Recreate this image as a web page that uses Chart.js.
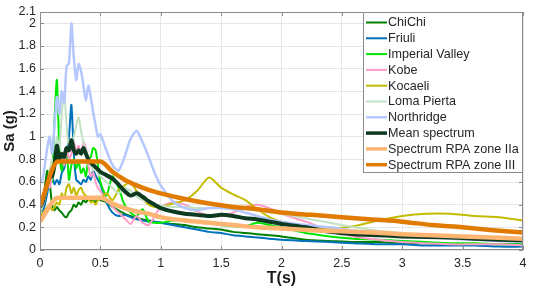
<!DOCTYPE html>
<html>
<head>
<meta charset="utf-8">
<script src="https://cdn.jsdelivr.net/npm/chart.js@4.4.1/dist/chart.umd.min.js"></script>
<style>
  html, body { margin: 0; padding: 0; background: #fff; }
  #wrap { width: 534px; height: 290px; }
</style>
</head>
<body>
<div id="wrap"><canvas id="spectraChart"></canvas></div>
<script>
// periods T (s) shared by the recorded spectra
const periods = [0, 0.02, 0.04, 0.06, 0.08, 0.1, 0.12, 0.14, 0.16, 0.18, 0.2, 0.22, 0.24, 0.26, 0.28, 0.3,
  0.32, 0.34, 0.36, 0.38, 0.4, 0.42, 0.44, 0.46, 0.48, 0.5, 0.55, 0.6, 0.65, 0.7, 0.75, 0.8, 0.85, 0.9, 0.95,
  1.0, 1.1, 1.2, 1.3, 1.4, 1.5, 1.6, 1.7, 1.8, 1.9, 2.0, 2.2, 2.4, 2.6, 2.8, 3.0, 3.2, 3.4, 3.6, 3.8, 4.0];

const chiChi = [0.33, 0.4, 0.55, 0.7, 0.6, 0.4, 0.35, 0.38, 0.35, 0.33, 0.3, 0.29, 0.33, 0.35, 0.4, 0.38,
  0.42, 0.4, 0.44, 0.42, 0.45, 0.43, 0.45, 0.42, 0.45, 0.44, 0.42, 0.38, 0.35, 0.32, 0.3, 0.28, 0.27, 0.26, 0.25,
  0.24, 0.23, 0.22, 0.2, 0.19, 0.18, 0.16, 0.15, 0.14, 0.13, 0.12, 0.09, 0.08, 0.07, 0.07, 0.06, 0.06, 0.05, 0.05, 0.05, 0.05];

const friuli = [0.3, 0.32, 0.4, 0.5, 0.62, 0.65, 0.58, 0.62, 0.58, 0.68, 0.72, 0.85, 1.0, 1.28, 0.85, 0.62,
  0.6, 0.58, 0.62, 0.6, 0.65, 0.62, 0.7, 0.66, 0.62, 0.58, 0.42, 0.33, 0.3, 0.31, 0.29, 0.27, 0.26, 0.25, 0.25,
  0.24, 0.22, 0.2, 0.18, 0.16, 0.15, 0.13, 0.12, 0.11, 0.1, 0.09, 0.08, 0.07, 0.06, 0.05, 0.05, 0.04, 0.04, 0.04, 0.03, 0.03];

const imperialValley = [0.35, 0.4, 0.5, 0.55, 0.7, 0.6, 1.15, 1.5, 0.9, 0.7, 0.85, 0.9, 0.62, 0.75, 0.8, 0.72,
  0.78, 0.68, 0.72, 0.65, 0.8, 0.82, 0.9, 0.88, 0.75, 0.6, 0.48, 0.65, 0.55, 0.4, 0.33, 0.3, 0.36, 0.25, 0.24,
  0.24, 0.26, 0.27, 0.25, 0.24, 0.22, 0.21, 0.21, 0.24, 0.22, 0.2, 0.15, 0.12, 0.1, 0.09, 0.08, 0.07, 0.06, 0.06, 0.05, 0.05];

const kobe = [0.35, 0.4, 0.5, 0.6, 0.55, 0.65, 0.75, 0.95, 0.8, 0.85, 0.75, 0.9, 0.8, 0.85, 0.95, 0.88,
  0.92, 0.85, 0.95, 0.9, 0.75, 0.65, 0.68, 0.6, 0.55, 0.52, 0.45, 0.38, 0.33, 0.28, 0.23, 0.3, 0.24, 0.22, 0.3,
  0.38, 0.42, 0.4, 0.34, 0.3, 0.3, 0.33, 0.38, 0.4, 0.37, 0.32, 0.25, 0.17, 0.12, 0.09, 0.07, 0.06, 0.05, 0.05, 0.05, 0.04];

const kocaeli = [0.3, 0.32, 0.35, 0.38, 0.4, 0.35, 0.38, 0.42, 0.4, 0.5, 0.45, 0.55, 0.58, 0.5, 0.55, 0.48,
  0.53, 0.55, 0.5, 0.48, 0.45, 0.42, 0.43, 0.4, 0.44, 0.45, 0.5, 0.44, 0.53, 0.57, 0.6, 0.52, 0.45, 0.4, 0.38,
  0.38, 0.41, 0.44, 0.52, 0.64, 0.55, 0.49, 0.44, 0.36, 0.29, 0.25, 0.2, 0.19, 0.21, 0.26, 0.3, 0.32, 0.32, 0.3, 0.29, 0.26];

const lomaPierta = [0.35, 0.38, 0.45, 0.55, 0.7, 0.8, 0.75, 1.0, 0.9, 1.2, 1.39, 1.1, 0.9, 0.95, 1.0, 1.1,
  1.17, 1.05, 0.95, 0.88, 0.82, 0.75, 0.7, 0.72, 0.68, 0.65, 0.6, 0.55, 0.5, 0.55, 0.52, 0.47, 0.44, 0.42, 0.4,
  0.39, 0.38, 0.38, 0.37, 0.37, 0.37, 0.36, 0.36, 0.35, 0.33, 0.32, 0.28, 0.24, 0.2, 0.17, 0.15, 0.13, 0.12, 0.1, 0.09, 0.08];

const northridge = [0.6, 0.62, 0.75, 0.9, 1.0, 0.85, 1.1, 1.35, 1.2, 1.4, 1.3, 1.62, 1.65, 2.0, 1.7, 1.5,
  1.64, 1.58, 1.45, 1.32, 1.45, 1.35, 1.22, 1.1, 1.0, 1.02, 0.88, 0.75, 0.7, 0.82, 0.98, 1.05, 0.95, 0.82, 0.68,
  0.57, 0.43, 0.37, 0.35, 0.37, 0.37, 0.36, 0.33, 0.3, 0.27, 0.25, 0.22, 0.2, 0.17, 0.15, 0.13, 0.12, 0.1, 0.09, 0.08, 0.07];

const meanSpectrum = [0.38, 0.42, 0.5, 0.6, 0.65, 0.65, 0.75, 0.92, 0.8, 0.85, 0.82, 0.9, 0.88, 0.97, 0.88, 0.85,
  0.88, 0.85, 0.9, 0.85, 0.8, 0.77, 0.75, 0.73, 0.71, 0.69, 0.66, 0.63, 0.58, 0.52, 0.48, 0.5, 0.47, 0.43, 0.4,
  0.37, 0.34, 0.32, 0.31, 0.3, 0.31, 0.3, 0.28, 0.27, 0.25, 0.23, 0.2, 0.16, 0.14, 0.13, 0.12, 0.115, 0.11, 0.1, 0.09, 0.085];

// design spectra (RPA)
const designPeriods = [0, 0.15, 0.5, 0.6, 0.7, 0.8, 0.9, 1.0, 1.2, 1.4, 1.6, 1.8, 2.0, 2.25, 2.5, 2.75, 3.0, 3.25, 3.5, 3.75, 4.0];
const rpaZoneIIa = [0.25, 0.46, 0.46, 0.41, 0.37, 0.34, 0.32, 0.29, 0.26, 0.24, 0.22, 0.2, 0.19, 0.175, 0.165, 0.155, 0.14, 0.13, 0.12, 0.11, 0.1];
const rpaZoneIII = [0.39, 0.78, 0.78, 0.69, 0.62, 0.57, 0.53, 0.5, 0.45, 0.41, 0.38, 0.36, 0.33, 0.31, 0.29, 0.27, 0.25, 0.22, 0.2, 0.175, 0.155];

const xTicks = [0, 0.5, 1, 1.5, 2, 2.5, 3, 3.5, 4];
const yTicks = [0, 0.2, 0.4, 0.6, 0.8, 1, 1.2, 1.4, 1.6, 1.8, 2, 2.1];

const FONT = '"Liberation Sans", Arial, Helvetica, sans-serif';
Chart.defaults.font.family = FONT;

const toPoints = (xs, ys) => xs.map((x, i) => ({ x: x, y: ys[i] }));

const series = [
  { label: "ChiChi", xs: periods, ys: chiChi, color: "#008000", width: 2 },
  { label: "Friuli", xs: periods, ys: friuli, color: "#0072BD", width: 2 },
  { label: "Imperial Valley", xs: periods, ys: imperialValley, color: "#00E600", width: 2 },
  { label: "Kobe", xs: periods, ys: kobe, color: "#FF9CC8", width: 2 },
  { label: "Kocaeli", xs: periods, ys: kocaeli, color: "#C4BC00", width: 2 },
  { label: "Loma Pierta", xs: periods, ys: lomaPierta, color: "#C3E1C3", width: 2 },
  { label: "Northridge", xs: periods, ys: northridge, color: "#B4C8FF", width: 2.5 },
  { label: "Mean spectrum", xs: periods, ys: meanSpectrum, color: "#0F3A22", width: 4 },
  { label: "Spectrum RPA zone IIa", xs: designPeriods, ys: rpaZoneIIa, color: "#FFB572", width: 4.5, design: true },
  { label: "Spectrum RPA zone III", xs: designPeriods, ys: rpaZoneIII, color: "#E07B00", width: 4.5, design: true },
];

const datasets = series.map((s, i) => ({
  label: s.label,
  data: toPoints(s.xs, s.ys),
  borderColor: s.color,
  backgroundColor: s.color,
  borderWidth: s.width,
  pointRadius: 0,
  tension: s.design ? 0.2 : 0.25,
  cubicInterpolationMode: s.design ? "monotone" : "default",
  fill: false,
  order: series.length - i, // later series drawn on top
}));

// box around the plot, inward ticks, and the legend inside the axes
const frameAndLegend = {
  id: "frameAndLegend",
  afterDraw(chart) {
    const { ctx, chartArea: a, scales } = chart;
    ctx.save();
    ctx.strokeStyle = "#8c8c8c";
    ctx.lineWidth = 1;
    ctx.strokeRect(a.left + 0.5, a.top + 0.5, a.right - a.left - 1, a.bottom - a.top - 1);
    ctx.beginPath();
    xTicks.forEach((v) => {
      const px = Math.round(scales.x.getPixelForValue(v)) + 0.5;
      ctx.moveTo(px, a.top); ctx.lineTo(px, a.top + 4);
      ctx.moveTo(px, a.bottom); ctx.lineTo(px, a.bottom - 4);
    });
    yTicks.forEach((v) => {
      const py = Math.round(scales.y.getPixelForValue(v)) + 0.5;
      ctx.moveTo(a.left, py); ctx.lineTo(a.left + 4, py);
      ctx.moveTo(a.right, py); ctx.lineTo(a.right - 4, py);
    });
    ctx.stroke();

    // legend
    const x0 = 363, y0 = a.top, x1 = a.right, y1 = 173;
    ctx.fillStyle = "#fff";
    ctx.fillRect(x0, y0, x1 - x0, y1 - y0);
    ctx.strokeStyle = "#8c8c8c";
    ctx.strokeRect(x0 + 0.5, y0 + 0.5, x1 - x0 - 1, y1 - y0 - 1);
    ctx.font = "12.6px " + FONT;
    ctx.textBaseline = "middle";
    ctx.textAlign = "left";
    series.forEach((s, i) => {
      const y = 22.5 + i * 15.8;
      ctx.strokeStyle = s.color;
      ctx.lineWidth = Math.min(s.width, 3.5);
      ctx.beginPath();
      ctx.moveTo(366, y); ctx.lineTo(387, y);
      ctx.stroke();
      ctx.fillStyle = "#262626";
      ctx.fillText(s.label, 388, y + 0.5);
    });
    ctx.restore();
  },
};

new Chart(document.getElementById("spectraChart"), {
  type: "line",
  data: { datasets },
  options: {
    responsive: true,
    maintainAspectRatio: false,
    animation: false,
    layout: { padding: { left: 0, top: 12, right: 11, bottom: 0 } },
    plugins: { legend: { display: false }, tooltip: { enabled: false } },
    scales: {
      x: {
        type: "linear",
        min: 0,
        max: 4,
        afterBuildTicks: (s) => { s.ticks = xTicks.map((v) => ({ value: v })); },
        afterFit: (s) => { s.height = 40; },
        ticks: { color: "#262626", font: { size: 12.5 }, padding: 6, maxRotation: 0, autoSkip: false, callback: (v) => String(v) },
        grid: { color: "#e6e6e6", drawTicks: false },
        border: { display: false },
        title: { display: true, text: "T(s)", color: "#1a1a1a", font: { size: 16, weight: "bold" }, padding: { top: 0, bottom: 2 } },
      },
      y: {
        type: "linear",
        min: 0,
        max: 2.1,
        afterBuildTicks: (s) => { s.ticks = yTicks.map((v) => ({ value: v })); },
        afterFit: (s) => { s.width = 40; },
        ticks: { color: "#262626", font: { size: 12.5 }, padding: 4, autoSkip: false, callback: (v) => String(+v.toFixed(1)) },
        grid: { color: "#e6e6e6", drawTicks: false },
        border: { display: false },
        title: { display: true, text: "Sa (g)", color: "#1a1a1a", font: { size: 15, weight: "bold" }, padding: { top: 1, bottom: 0 } },
      },
    },
  },
  plugins: [frameAndLegend],
});
</script>
</body>
</html>
